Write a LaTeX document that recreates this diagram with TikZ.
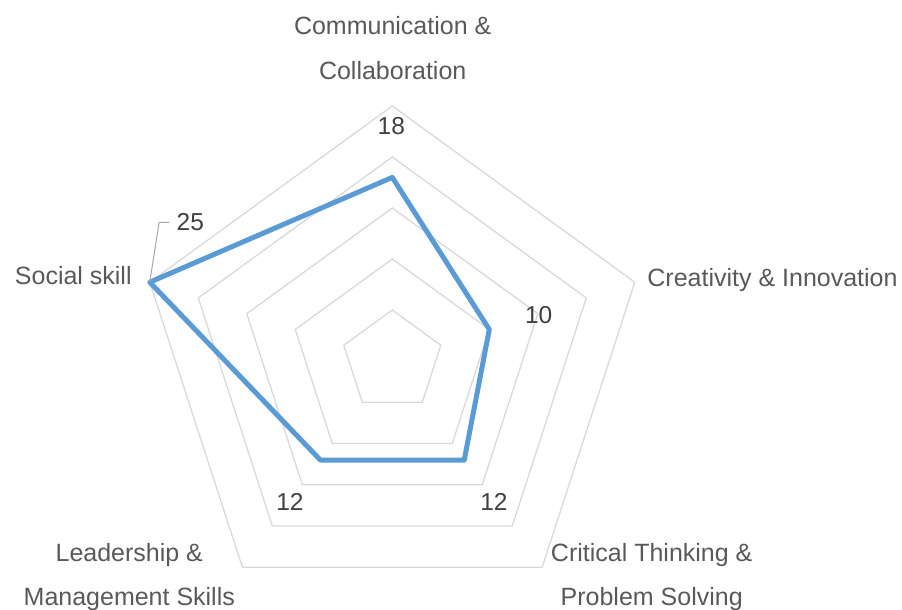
\documentclass[tikz,border=0pt]{standalone}
\usepackage{fontspec}
\setmainfont{Liberation Sans}
\usepackage{tikz}
\usetikzlibrary{positioning}
\definecolor{ringgray}{HTML}{D9D9D9}
\definecolor{catgray}{HTML}{595959}
\definecolor{valgray}{HTML}{404040}
\definecolor{leadgray}{HTML}{A6A6A6}
\definecolor{seriesblue}{HTML}{5B9BD5}
\tikzset{
  ring/.style={draw=ringgray, line width=1.3pt},
  series/.style={draw=seriesblue, line width=5pt, line join=round},
  catlabel/.style={anchor=base, text=catgray, font=\fontsize{25}{30}\selectfont},
  vallabel/.style={anchor=base, text=valgray, font=\fontsize{24.5}{29}\selectfont},
  leader/.style={draw=leadgray, line width=1pt}
}
\begin{document}
\begin{tikzpicture}[x=1pt,y=1pt]
\useasboundingbox (-392.3,-249) rectangle (509.7,361);

% rings of the radar
\foreach \r in {51,102,153,204,255}
  \draw[ring] (90:\r pt)--(18:\r pt)--(-54:\r pt)--(-126:\r pt)--(162:\r pt)--cycle;

% data points (scale 0..25)
\coordinate (comm) at (90:183.6pt);
\coordinate (crea) at (18:102pt);
\coordinate (crit) at (-54:122.4pt);
\coordinate (lead) at (-126:122.4pt);
\coordinate (soc) at (162:255pt);

\draw[series] (comm)--(crea)--(crit)--(lead)--(soc)--cycle;

% value labels
\node[vallabel] (v18) at (-1,226) {18};
\node[vallabel] (v10) at (146.4,37.7) {10};
\node[vallabel] (v12r) at (101.7,-149.7) {12};
\node[vallabel] (v12l) at (-102.3,-149.7) {12};
\node[vallabel] (v25) at (-202,130.3) {25};
\draw[leader] ([xshift=-4pt]v25.west)--([xshift=-14pt]v25.west)--(soc);

% category labels
\node[catlabel] (comm1) at (0.4,326) {Communication \&};
\node[catlabel] (comm2) at (0.4,281.7) {Collaboration};
\node[catlabel] (crea1) at (380.2,74.7) {Creativity \& Innovation};
\node[catlabel] (crit1) at (259.4,-200.7) {Critical Thinking \&};
\node[catlabel] (crit2) at (259.4,-244.7) {Problem Solving};
\node[catlabel] (lead1) at (-263,-200.7) {Leadership \&};
\node[catlabel] (lead2) at (-263,-244.7) {Management Skills};
\node[catlabel] (soc1) at (-319,76) {Social skill};

\end{tikzpicture}
\end{document}
